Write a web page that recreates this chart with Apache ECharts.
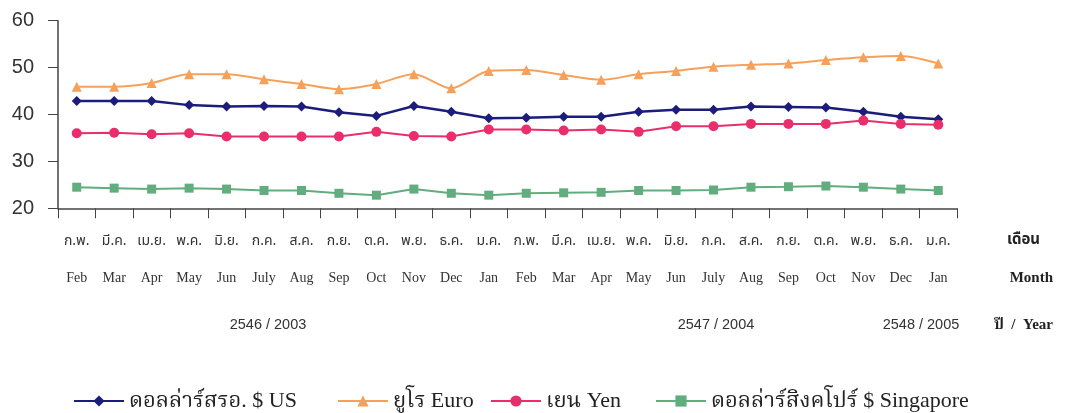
<!DOCTYPE html>
<html>
<head>
<meta charset="utf-8">
<script src="https://cdn.jsdelivr.net/npm/echarts@6/dist/echarts.min.js"></script>
<style>
html,body{margin:0;padding:0;background:#ffffff;}
#chart{width:1068px;height:413px;}
</style>
</head>
<body>
<div id="chart"></div>
<script>
var thaiMonths = ['ก.พ.','มี.ค.','เม.ย.','พ.ค.','มิ.ย.','ก.ค.','ส.ค.','ก.ย.','ต.ค.','พ.ย.','ธ.ค.','ม.ค.','ก.พ.','มี.ค.','เม.ย.','พ.ค.','มิ.ย.','ก.ค.','ส.ค.','ก.ย.','ต.ค.','พ.ย.','ธ.ค.','ม.ค.'];
var engMonths = ['Feb','Mar','Apr','May','Jun','July','Aug','Sep','Oct','Nov','Dec','Jan','Feb','Mar','Apr','May','Jun','July','Aug','Sep','Oct','Nov','Dec','Jan'];
var yTicks = [20, 30, 40, 50, 60];
var seriesNames = ['ดอลล่าร์สรอ. $ US', 'ยูโร Euro', 'เยน Yen', 'ดอลล่าร์สิงคโปร์ $ Singapore'];
var usd = [42.9,42.9,42.9,42.0,41.7,41.8,41.7,40.5,39.7,41.8,40.6,39.2,39.3,39.5,39.5,40.6,41.0,41.0,41.7,41.6,41.5,40.6,39.5,39.0];
var euro = [45.9,45.9,46.7,48.6,48.6,47.5,46.5,45.4,46.5,48.6,45.6,49.3,49.5,48.4,47.4,48.6,49.3,50.2,50.6,50.9,51.6,52.2,52.5,50.9];
var yen = [36.0,36.1,35.8,36.0,35.3,35.3,35.3,35.3,36.3,35.4,35.3,36.8,36.8,36.6,36.8,36.3,37.5,37.5,38.0,38.0,38.0,38.7,38.0,37.8];
var sgd = [24.5,24.3,24.1,24.3,24.1,23.8,23.8,23.2,22.8,24.1,23.2,22.8,23.2,23.3,23.4,23.8,23.8,23.9,24.5,24.6,24.75,24.5,24.1,23.8];
var yearLabels = ['2546 / 2003', '2547 / 2004', '2548 / 2005'];
var colors = ['#1c1c7c', '#f7a05a', '#ea2e6b', '#62ad7e'];

var thaiFont = '"Noto Sans Thai","Noto Sans","DejaVu Sans",sans-serif';
var serifFont = '"Liberation Serif","DejaVu Serif",serif';
var mixFont = '"Liberation Serif","Noto Serif Thai","Noto Sans Thai",serif';
var legendLefts = [68, 332, 485, 650];

var chart = echarts.init(document.getElementById('chart'), null, {renderer: 'canvas'});
var legends = seriesNames.map(function (n, i) {
  return {
    left: legendLefts[i], top: 385,
    itemWidth: 50, itemHeight: 14, itemGap: 0,
    textStyle: {fontFamily: mixFont, fontSize: 22, color: '#222'},
    data: [n]
  };
});
var option = {
  backgroundColor: '#ffffff',
  animation: false,
  color: colors,
  grid: {left: 58, right: 111, top: 20.7, bottom: 204.7, containLabel: false},
  legend: legends,
  xAxis: {
    type: 'category',
    data: engMonths,
    boundaryGap: true,
    axisLine: {lineStyle: {color: '#444', width: 1.5}},
    axisTick: {show: true, length: 10, lineStyle: {color: '#444'}},
    axisLabel: {
      margin: 16, interval: 0,
      formatter: function (v, i) { return '{th|' + thaiMonths[i] + '}\n{en|' + engMonths[i] + '}'; },
      rich: {
        th: {fontFamily: thaiFont, fontSize: 14, color: '#333', lineHeight: 36},
        en: {fontFamily: serifFont, fontSize: 14, color: '#333', lineHeight: 36}
      }
    }
  },
  yAxis: {
    type: 'value', min: yTicks[0], max: yTicks[yTicks.length - 1], interval: 10,
    axisLine: {show: true, lineStyle: {color: '#444', width: 1.5}},
    axisTick: {show: true, length: 10, lineStyle: {color: '#444'}},
    splitLine: {show: false},
    axisLabel: {margin: 24, fontFamily: '"Liberation Sans",Arial,sans-serif', fontSize: 20, color: '#333'}
  },
  graphic: [
    {type: 'text', x: 268, y: 325, style: {text: yearLabels[0], align: 'center', verticalAlign: 'middle', font: '14.5px "Liberation Sans",Arial,sans-serif', fill: '#333'}},
    {type: 'text', x: 716, y: 325, style: {text: yearLabels[1], align: 'center', verticalAlign: 'middle', font: '14.5px "Liberation Sans",Arial,sans-serif', fill: '#333'}},
    {type: 'text', x: 921, y: 325, style: {text: yearLabels[2], align: 'center', verticalAlign: 'middle', font: '14.5px "Liberation Sans",Arial,sans-serif', fill: '#333'}},
    {type: 'text', x: 1040, y: 241, style: {text: 'เดือน', align: 'right', verticalAlign: 'middle', font: 'bold 15px ' + thaiFont, fill: '#222'}},
    {type: 'text', x: 1053, y: 278, style: {text: 'Month', align: 'right', verticalAlign: 'middle', font: 'bold 15px ' + serifFont, fill: '#222'}},
    {type: 'text', x: 1053, y: 325, style: {text: 'ปี  /  Year', align: 'right', verticalAlign: 'middle', font: 'bold 15px ' + mixFont, fill: '#222'}}
  ],
  series: [
    {name: seriesNames[0], type: 'line', data: usd, symbol: 'diamond', symbolSize: 10, lineStyle: {width: 2.5}, itemStyle: {color: colors[0]}},
    {name: seriesNames[1], type: 'line', data: euro, symbol: 'triangle', symbolSize: 10, smooth: 0.3, lineStyle: {width: 2}, itemStyle: {color: colors[1]}},
    {name: seriesNames[2], type: 'line', data: yen, symbol: 'circle', symbolSize: 10, lineStyle: {width: 2}, itemStyle: {color: colors[2]}},
    {name: seriesNames[3], type: 'line', data: sgd, symbol: 'rect', symbolSize: 9, lineStyle: {width: 2}, itemStyle: {color: colors[3]}}
  ]
};
chart.setOption(option);
</script>
</body>
</html>
